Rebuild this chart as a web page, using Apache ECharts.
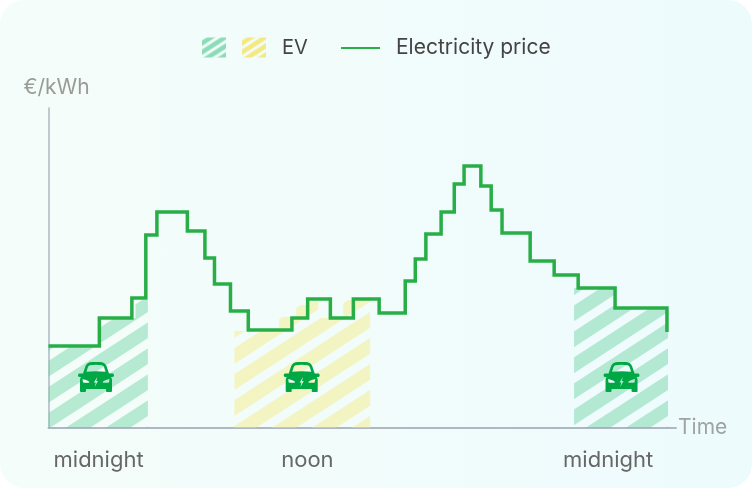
<!DOCTYPE html>
<html><head><meta charset="utf-8">
<script src="https://cdn.jsdelivr.net/npm/echarts@6/dist/echarts.min.js"></script>
<style>
html,body{margin:0;padding:0;background:#fff}
#card{width:752px;height:488px;border-radius:24px;background:linear-gradient(90deg,#f4fdf9,#eefbfd);overflow:hidden}
#c{width:752px;height:488px}
</style></head><body><div id="card"><div id="c"></div></div>
<script>
const priceHours=[0,1.97,3.23,3.77,4.20,5.38,6.06,6.43,7.05,7.74,9.43,10.04,10.92,11.81,12.81,13.82,14.21,14.62,15.21,15.72,16.10,16.75,17.15,17.57,18.66,19.59,20.52,21.95,23.96];
const priceValues=[.082,.110,.130,.193,.216,.197,.170,.144,.117,.098,.110,.129,.110,.129,.115,.147,.169,.194,.216,.244,.262,.242,.218,.195,.167,.153,.140,.120,.096];
const evNightAHours=[0,1.97,3.37,3.85];
const evNightAValues=[.082,.110,.128,.128];
const evNightBHours=[20.36,21.95,24.0];
const evNightBValues=[.140,.120,.120];
const evNoonHours=[7.20,8.94,9.60,10.03,10.45,11.42,12.46];
const evNoonValues=[.097,.111,.123,.127,.110,.128,.128];
const tickHours=[1.94,10.03,21.68];
const tickLabels=['midnight','noon','midnight'];
const carHours=[1.84,9.81,22.2];
const carValue=.051;

function tile(w,h,band,phase,color){
  const c=document.createElement('canvas');c.width=w;c.height=h;
  const g=c.getContext('2d');g.fillStyle=color;
  const s=h/w;
  for(let k=-3;k<6;k++){
    const y0=phase+k*h;
    g.beginPath();g.moveTo(0,y0);g.lineTo(w,y0-s*w);g.lineTo(w,y0-s*w+band);g.lineTo(0,y0+band);g.closePath();g.fill();
  }
  return c;
}
const pat=c=>({image:c,repeat:'repeat'});
const greenArea=pat(tile(40,26,15.7,2.5,'rgba(90,205,150,0.40)'));
const yellowArea=pat(tile(40,26,15.7,6.5,'rgba(245,232,110,0.40)'));
const greenKey=pat(tile(14,9,5.4,3,'rgba(90,205,150,0.68)'));
const yellowKey=pat(tile(14,9,5.4,3,'rgba(243,225,90,0.75)'));
const zip=(a,b)=>a.map((x,i)=>[x,b[i]]);
const CAR='path://M10,1 Q12,0 14,0 L22,0 Q24,0 26,1 Q27.5,2 28.5,4 L31,11.5 L35,11.5 Q36,12 36,13.5 Q36,15 34,15 L33,15 Q34,16.5 34,18 L34,29 Q34,30 33,30 L29,30 Q28,30 28,29 L28,27 L8,27 L8,29 Q8,30 7,30 L3,30 Q2,30 2,29 L2,18 Q2,16.5 3,15 L2,15 Q0,15 0,13.5 Q0,12 1,11.5 L5,11.5 L7.5,4 Q8.5,2 10,1 Z '
+'M12,3.2 Q10.3,3.6 9.8,5.5 L8.5,9.8 Q18,8.8 27.5,9.8 L26.2,5.5 Q25.7,3.6 24,3.2 Q18,2.2 12,3.2 Z '
+'M4.5,17 L5,20.4 Q8,21 11.5,20.4 Q10.5,18.2 4.5,17 Z '
+'M31.5,17 Q25.5,18.2 24.5,20.4 Q28,21 31,20.4 Z '
+'M19.3,15 L16,20.5 L17.8,20.5 L16.7,25 L20,19 L18.2,19 Z';
const grey='#aeb7c3';
const areaBase={type:'line',step:'end',symbol:'none',lineStyle:{width:0},silent:true,z:1};
const chart=echarts.init(document.getElementById('c'),null,{renderer:'canvas'});
chart.setOption({
  animation:false,backgroundColor:'transparent',
  textStyle:{fontFamily:'Inter'},
  grid:{left:48.5,right:76,top:108,bottom:60},
  legend:[
   {left:202,top:37.5,padding:0,itemWidth:24,itemHeight:20,itemGap:16,icon:'rect',selectedMode:false,
    data:['EV overnight','EV'],
    formatter:n=>n==='EV'?'EV':'',
    textStyle:{fontFamily:'Inter',fontSize:20,color:'#454343',padding:[0,0,0,11]}},
   {left:341,top:37.5,padding:0,itemWidth:39,itemHeight:2,icon:'rect',selectedMode:false,
    data:['Electricity price'],
    textStyle:{fontFamily:'Inter',fontSize:21,color:'#454343',padding:[0,0,0,11]}}
  ],
  xAxis:{type:'value',min:0,max:24.31,
    name:'Time',nameLocation:'end',nameGap:2,
    nameTextStyle:{fontFamily:'Inter',fontSize:21,color:'#9fa3a3',padding:[0,0,8,0]},
    axisLine:{show:true,lineStyle:{color:grey,width:2}},axisTick:{show:false},splitLine:{show:false},
    axisLabel:{customValues:tickHours,margin:21,fontFamily:'Inter',fontSize:22,color:'#676767',
      formatter:v=>tickLabels[tickHours.indexOf(v)]}},
  yAxis:{type:'value',min:0,max:.32,
    name:'€/kWh',nameLocation:'end',nameGap:10,
    nameTextStyle:{fontFamily:'Inter',fontSize:21,color:'#9b9a97',align:'left',padding:[0,0,0,-25]},
    axisLine:{show:true,lineStyle:{color:grey,width:1.5}},axisTick:{show:false},splitLine:{show:false},axisLabel:{show:false}},
  series:[
   {...areaBase,name:'EV overnight',data:zip(evNightAHours,evNightAValues),areaStyle:{color:greenArea,opacity:1},itemStyle:{color:greenKey}},
   {...areaBase,name:'EV overnight',data:zip(evNightBHours,evNightBValues),areaStyle:{color:greenArea,opacity:1},itemStyle:{color:greenKey}},
   {...areaBase,name:'EV',data:zip(evNoonHours,evNoonValues),areaStyle:{color:yellowArea,opacity:1},itemStyle:{color:yellowKey}},
   {type:'line',name:'Electricity price',step:'end',symbol:'none',data:zip(priceHours,priceValues),
    lineStyle:{color:'#28ae47',width:3.5,cap:'butt',join:'miter'},itemStyle:{color:'#28ae47'},silent:true,z:3,clip:false},
   {type:'scatter',name:'car',data:carHours.map(h=>[h,carValue]),symbol:CAR,symbolSize:[36,30],
    itemStyle:{color:'#00a845',opacity:1},silent:true,z:4}
  ]
});
</script></body></html>
